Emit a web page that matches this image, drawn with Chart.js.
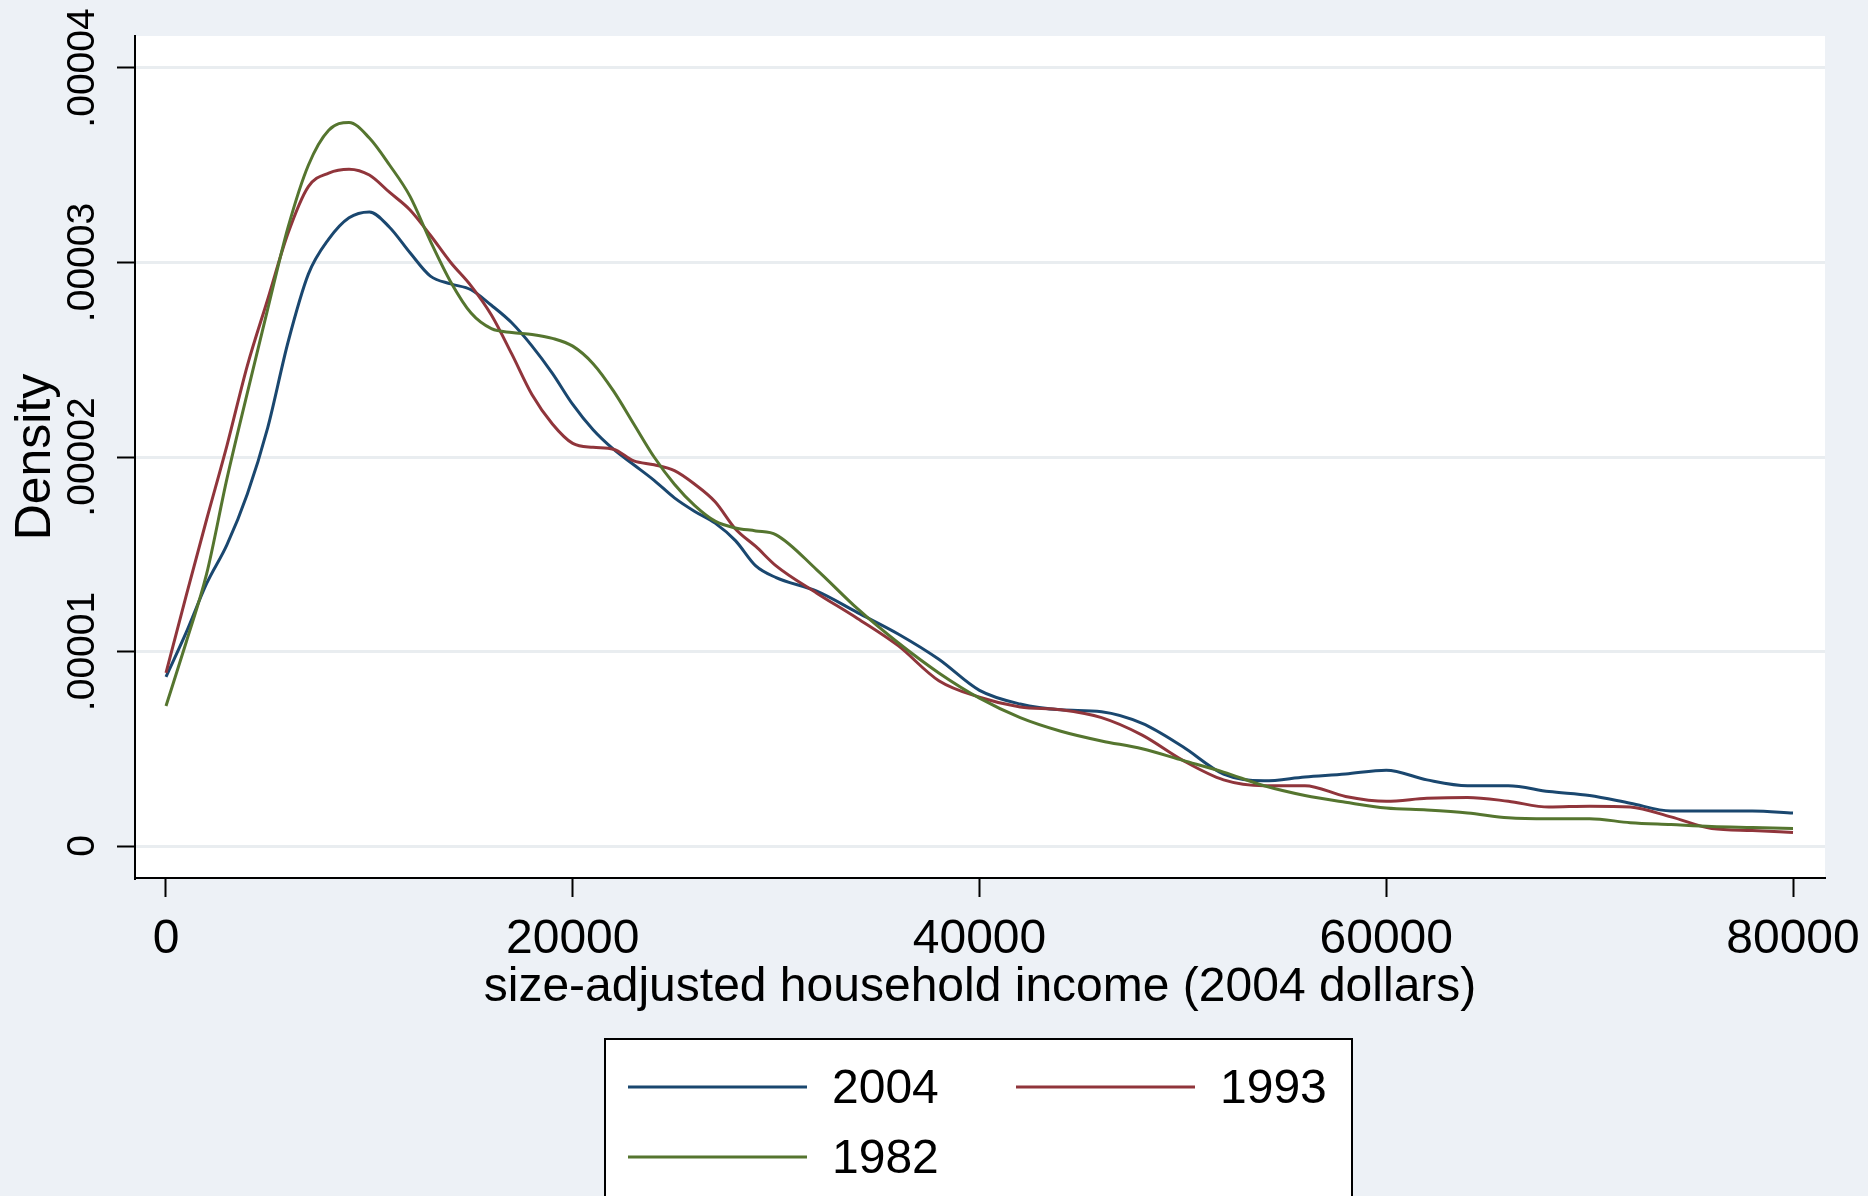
<!DOCTYPE html>
<html>
<head>
<meta charset="utf-8">
<script src="https://cdn.jsdelivr.net/npm/chart.js@4.4.1/dist/chart.umd.min.js"></script>
<style>
html, body { margin: 0; padding: 0; background: #edf1f6; }
canvas { display: block; }
</style>
</head>
<body>
<canvas id="density-chart" width="1868" height="1196"></canvas>
<script>
// income in 2004 dollars; densities are in units of 1e-5
const incomeGrid = [
    0, 1000, 2000, 3000, 4000, 5000, 6000, 7000, 8000, 9000,
    10000, 11000, 12000, 13000, 14000, 15000, 16000, 17000, 18000, 19000,
    20000, 21000, 22000, 23000, 24000, 25000, 26000, 27000, 28000, 29000, 30000,
    32000, 34000, 36000, 38000, 40000, 42000, 44000, 46000, 48000, 50000,
    52000, 54000, 56000, 58000, 60000, 62000, 64000, 66000, 68000, 70000,
    72000, 74000, 76000, 78000, 80000
];
const density2004 = [
    0.87, 1.10, 1.35, 1.55, 1.81, 2.15, 2.59, 2.94, 3.12, 3.23,
    3.26, 3.18, 3.05, 2.93, 2.89, 2.86, 2.78, 2.69, 2.57, 2.43,
    2.27, 2.14, 2.04, 1.96, 1.88, 1.79, 1.72, 1.66, 1.57, 1.44, 1.38,
    1.31, 1.20, 1.09, 0.96, 0.80, 0.73, 0.70, 0.69, 0.63, 0.51,
    0.37, 0.335, 0.355, 0.37, 0.39, 0.34, 0.31, 0.31, 0.28, 0.26,
    0.22, 0.18, 0.18, 0.18, 0.17
];
const density1993 = [
    0.89, 1.29, 1.68, 2.06, 2.47, 2.81, 3.15, 3.39, 3.46, 3.48,
    3.45, 3.36, 3.27, 3.14, 3.00, 2.88, 2.73, 2.53, 2.32, 2.17,
    2.07, 2.05, 2.04, 1.98, 1.96, 1.93, 1.86, 1.77, 1.63, 1.54, 1.44,
    1.30, 1.17, 1.03, 0.85, 0.765, 0.715, 0.70, 0.66, 0.57, 0.44,
    0.34, 0.31, 0.31, 0.255, 0.23, 0.245, 0.25, 0.23, 0.20, 0.205,
    0.20, 0.15, 0.09, 0.08, 0.07
];
const density1982 = [
    0.72, 1.05, 1.40, 1.89, 2.33, 2.76, 3.18, 3.50, 3.68, 3.72,
    3.64, 3.50, 3.34, 3.11, 2.90, 2.74, 2.66, 2.64, 2.63, 2.61,
    2.57, 2.48, 2.34, 2.17, 2.00, 1.86, 1.75, 1.67, 1.635, 1.62, 1.60,
    1.42, 1.22, 1.045, 0.89, 0.76, 0.66, 0.59, 0.54, 0.50, 0.44,
    0.38, 0.31, 0.26, 0.225, 0.195, 0.185, 0.17, 0.145, 0.14, 0.14,
    0.12, 0.11, 0.10, 0.095, 0.09
];
const seriesLabels = ['2004', '1993', '1982'];
const seriesColors = ['#1a476f', '#90353b', '#55752f'];
const incomeTicks = [0, 20000, 40000, 60000, 80000];
const densityTicks = [0, 1, 2, 3, 4];
const densityTickLabels = ['0', '.00001', '.00002', '.00003', '.00004'];

const FONT = '"Liberation Sans", Arial, sans-serif';

function toPoints(values) {
    return incomeGrid.map((x, i) => ({ x, y: values[i] }));
}

const stataLook = {
    id: 'stataLook',
    beforeDraw(chart) {
        const { ctx, chartArea: a, width, height } = chart;
        ctx.save();
        ctx.fillStyle = '#edf1f6';
        ctx.fillRect(0, 0, width, height);
        ctx.fillStyle = '#ffffff';
        ctx.fillRect(a.left, a.top, a.right - a.left, a.bottom - a.top);
        ctx.restore();
    },
    afterDraw(chart) {
        const { ctx } = chart;
        const yScale = chart.scales.y;
        ctx.save();

        // rotated y tick labels
        ctx.fillStyle = '#000';
        ctx.font = `39px ${FONT}`;
        ctx.textAlign = 'center';
        ctx.textBaseline = 'middle';
        yScale.ticks.forEach((t, i) => {
            ctx.save();
            ctx.translate(83, yScale.getPixelForValue(t.value));
            ctx.rotate(-Math.PI / 2);
            ctx.fillText(densityTickLabels[i], 0, 0);
            ctx.restore();
        });

        // legend box, two columns
        ctx.fillStyle = '#ffffff';
        ctx.fillRect(605, 1039, 747, 180);
        ctx.strokeStyle = '#000';
        ctx.lineWidth = 2;
        ctx.strokeRect(605, 1039, 747, 180);
        ctx.font = `48px ${FONT}`;
        ctx.textAlign = 'left';
        chart.data.datasets.forEach((ds, i) => {
            const x0 = [628, 1016][i % 2];
            const y = [1087, 1157][Math.floor(i / 2)];
            ctx.strokeStyle = ds.borderColor;
            ctx.lineWidth = 3;
            ctx.beginPath();
            ctx.moveTo(x0, y);
            ctx.lineTo(x0 + 179, y);
            ctx.stroke();
            ctx.fillStyle = '#000';
            ctx.fillText(ds.label, x0 + 204, y + 3);
        });
        ctx.restore();
    }
};

const seriesValues = [density2004, density1993, density1982];

new Chart(document.getElementById('density-chart').getContext('2d'), {
    type: 'line',
    data: {
        datasets: seriesLabels.map((label, i) => ({
            label,
            data: toPoints(seriesValues[i]),
            borderColor: seriesColors[i],
            borderWidth: 3,
            pointRadius: 0,
            fill: false,
            cubicInterpolationMode: 'monotone',
            order: 3 - i
        }))
    },
    options: {
        responsive: false,
        animation: false,
        events: [],
        layout: { padding: { left: 0, top: 36, right: 43, bottom: 0 } },
        plugins: {
            legend: { display: false },
            tooltip: { enabled: false }
        },
        scales: {
            x: {
                type: 'linear',
                min: -1524,
                max: 81573,
                afterBuildTicks: s => { s.ticks = incomeTicks.map(v => ({ value: v })); },
                afterFit: s => { s.height = 318; s.paddingLeft = 0; s.paddingRight = 0; },
                grid: { drawOnChartArea: false, tickLength: 19, tickColor: '#000', tickWidth: 2 },
                border: { color: '#000', width: 2 },
                ticks: {
                    color: '#000',
                    font: { family: FONT, size: 48 },
                    padding: 14,
                    maxRotation: 0,
                    autoSkip: false,
                    callback: v => String(v)
                },
                title: {
                    display: true,
                    text: 'size-adjusted household income (2004 dollars)',
                    color: '#000',
                    font: { family: FONT, size: 48 },
                    padding: { top: 0, bottom: 179 }
                }
            },
            y: {
                type: 'linear',
                min: -0.1645,
                max: 4.1645,
                afterBuildTicks: s => { s.ticks = densityTicks.map(v => ({ value: v })); },
                afterFit: s => { s.width = 135; s.paddingTop = 0; s.paddingBottom = 0; },
                grid: { color: '#e9edf0', lineWidth: 3, tickLength: 18, tickColor: '#000', tickWidth: 2 },
                border: { color: '#000', width: 2 },
                ticks: { display: false },
                title: {
                    display: true,
                    text: 'Density',
                    color: '#000',
                    font: { family: FONT, size: 50 },
                    padding: { top: 6, bottom: 0 }
                }
            }
        }
    },
    plugins: [stataLook]
});
</script>
</body>
</html>
